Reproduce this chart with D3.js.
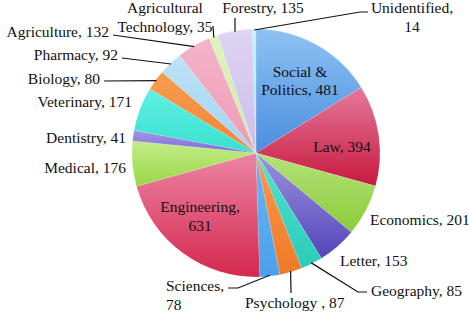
<!DOCTYPE html>
<html>
<head>
<meta charset="utf-8">
<script src="https://cdn.jsdelivr.net/npm/d3@7"></script>
<style>
  body { margin: 0; background: #fff; }
  svg { display: block; }
</style>
</head>
<body>
<svg id="chart" width="472" height="314"></svg>
<script>
// data, clockwise from 12 o'clock
const categories = ["Social & Politics", "Law", "Economics", "Letter", "Geography", "Psychology",
  "Sciences", "Engineering", "Medical", "Dentistry", "Veterinary", "Biology", "Pharmacy",
  "Agriculture", "Agricultural Technology", "Forestry", "Unidentified"];
const counts = [481, 394, 201, 153, 85, 87, 78, 631, 176, 41, 171, 80, 92, 132, 35, 135, 14];
const labelText = [
  ["Social &", "Politics, 481"], ["Law, 394"], ["Economics, 201"], ["Letter, 153"],
  ["Geography, 85"], ["Psychology , 87"], ["Sciences,", "78"], ["Engineering,", "631"],
  ["Medical, 176"], ["Dentistry, 41"], ["Veterinary, 171"], ["Biology, 80"], ["Pharmacy, 92"],
  ["Agriculture, 132"], ["Agricultural", "Technology, 35"], ["Forestry, 135"], ["Unidentified,", "14"]
];

// slice colours: light (top) -> dark (bottom)
const topColors = ["#8ec2f2", "#e47a9c", "#b4e27a", "#9c94de", "#52e2d0", "#f8984c", "#6cb6f2",
  "#ec84a4", "#c4ec88", "#a298e4", "#60f0e2", "#f89c50", "#bce2f6", "#f4b4c8", "#e0f4bc", "#e0d4f4", "#c0f4f4"];
const bottomColors = ["#4a8ee0", "#c8183e", "#8ccc3a", "#5444bc", "#2ccab8", "#f07a28", "#4aa0ea",
  "#d4284e", "#98d846", "#7c6cd8", "#38e0d0", "#f48436", "#a4d4f2", "#ec9cb6", "#cceca0", "#ccbcec", "#a0ecec"];

// label layout: x, first baseline y, anchor, leader elbow points (toward text)
const labelPos = [
  {x: 300, y: 77, a: "middle"},
  {x: 342, y: 152, a: "middle"},
  {x: 370, y: 225, a: "start"},
  {x: 340, y: 266, a: "start"},
  {x: 371, y: 296, a: "start", lead: [[367, 292], [358, 292]]},
  {x: 245, y: 308, a: "start", lead: [[291, 293]]},
  {x: 166, y: 291, a: "start", lead: [[228, 288], [238, 288]], lh: 19},
  {x: 200, y: 212, a: "middle", lh: 19},
  {x: 126, y: 173, a: "end"},
  {x: 126, y: 143, a: "end"},
  {x: 132, y: 107, a: "end"},
  {x: 100, y: 84, a: "end", lead: [[104, 81]]},
  {x: 118, y: 60, a: "end", lead: [[122, 58]]},
  {x: 109, y: 37, a: "end", lead: [[113, 35]]},
  {x: 165, y: 13, a: "middle", lead: [[213, 26]], lh: 19},
  {x: 263, y: 13, a: "middle", lead: [[235, 18]]},
  {x: 412, y: 13, a: "middle", lead: [[368, 12], [360, 12]], lh: 19}
];

const fontStack = "'Liberation Serif', 'DejaVu Serif', 'Times New Roman', 'Noto Serif', serif";

const svg = d3.select("#chart");
const cx = 256, cy = 153, radius = 124;

const pie = d3.pie().sort(null).value(d => d)(counts);
const arc = d3.arc().innerRadius(0).outerRadius(radius);

const defs = svg.append("defs");
pie.forEach((d, i) => {
  const g = defs.append("linearGradient")
    .attr("id", "grad" + i)
    .attr("x1", "0%").attr("y1", "0%")
    .attr("x2", "0%").attr("y2", "100%");
  g.append("stop").attr("offset", "0%").attr("stop-color", topColors[i]);
  g.append("stop").attr("offset", "100%").attr("stop-color", bottomColors[i]);
});

const g = svg.append("g").attr("transform", `translate(${cx},${cy})`);

g.selectAll("path.slice")
  .data(pie)
  .enter().append("path")
  .attr("class", "slice")
  .attr("d", arc)
  .attr("fill", (d, i) => `url(#grad${i})`)
  .attr("stroke", "rgba(255,255,255,0.35)")
  .attr("stroke-width", 0.4);

// leader lines: from label elbow to the slice's mid point on the rim
const leaderArc = d3.arc().innerRadius(radius - 1).outerRadius(radius - 1);
pie.forEach((d, i) => {
  const p = labelPos[i];
  if (!p.lead) return;
  const mid = leaderArc.centroid(d);
  const pts = p.lead.concat([[mid[0] + cx, mid[1] + cy]]);
  svg.append("path")
    .attr("d", d3.line()(pts))
    .attr("fill", "none")
    .attr("stroke", "#111")
    .attr("stroke-width", 1.2);
});

// labels
labelText.forEach((lines, i) => {
  const p = labelPos[i];
  const t = svg.append("text")
    .attr("x", p.x)
    .attr("y", p.y)
    .attr("font-family", fontStack)
    .attr("font-size", "15.5px")
    .attr("fill", "#111")
    .attr("text-anchor", p.a);
  lines.forEach((s, k) => {
    t.append("tspan")
      .attr("x", p.x)
      .attr("dy", k === 0 ? 0 : (p.lh || 18))
      .text(s);
  });
});
</script>
</body>
</html>
